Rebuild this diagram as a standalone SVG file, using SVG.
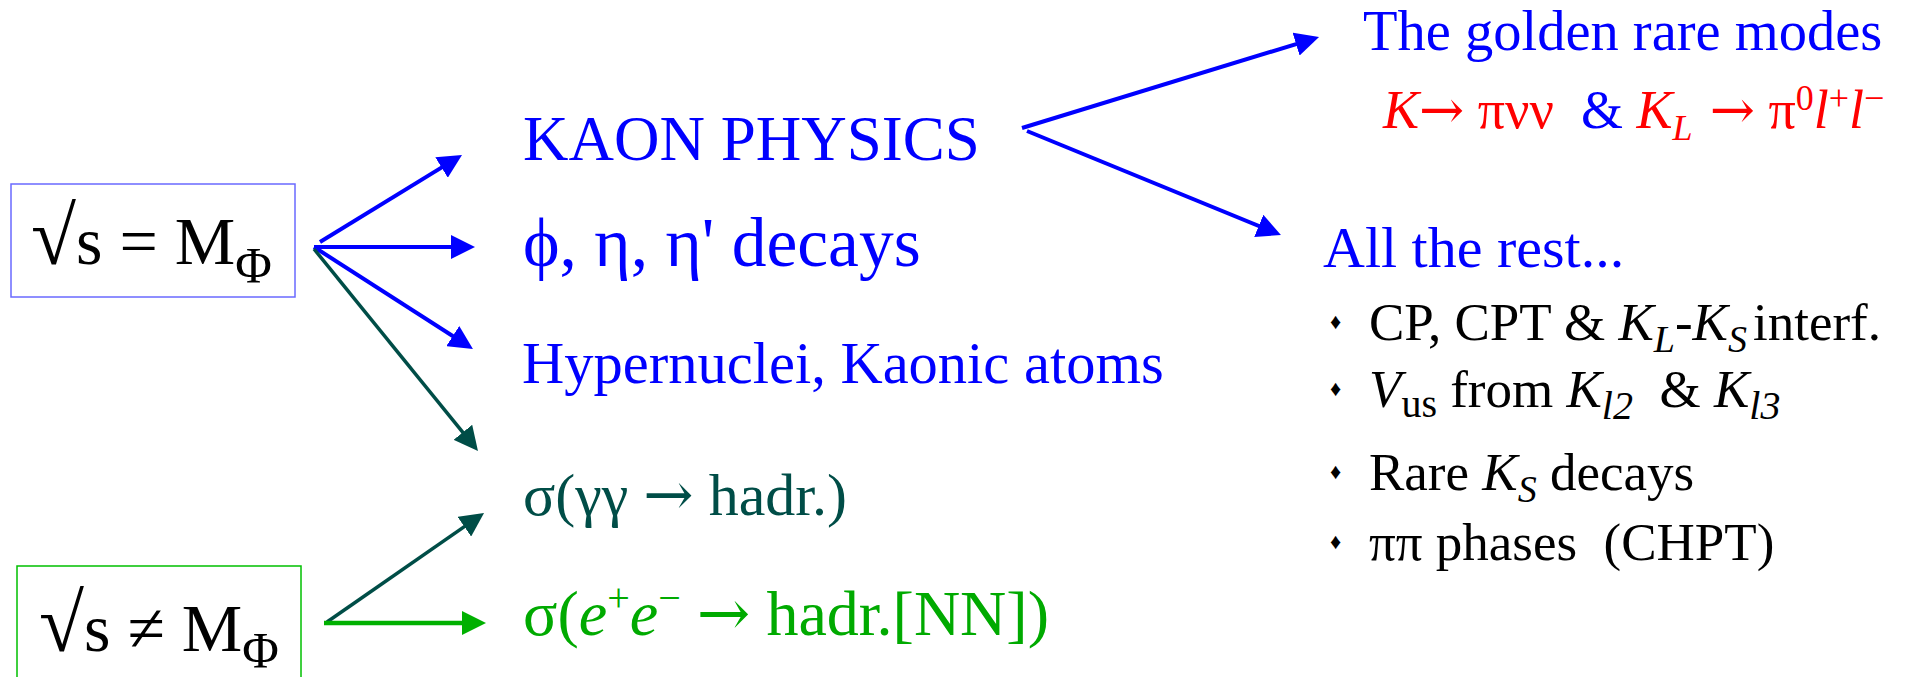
<svg xmlns="http://www.w3.org/2000/svg" width="1916" height="677" viewBox="0 0 1916 677">
<style>
text{font-family:"Liberation Serif","Times New Roman",serif;}
.blk{fill:#000;}
.blue{fill:#0000ff;}
.red{fill:#ff0000;}
.dg{fill:#004d47;}
.gr{fill:#00aa00;}
.it{font-style:italic;}
.arr{font-family:"DejaVu Serif",serif;font-weight:normal;}
.lb{stroke:#0000ff;stroke-width:4;fill:none;}
.ldg{stroke:#004d47;stroke-width:3.5;fill:none;}
.lgr{stroke:#00b000;stroke-width:4.5;fill:none;}
</style>
<defs>
<marker id="ab" markerUnits="userSpaceOnUse" markerWidth="24" markerHeight="24" refX="18" refY="12" orient="auto"><path d="M0,0 L24,12 L0,24 z" fill="#0000ff"/></marker>
<marker id="adg" markerUnits="userSpaceOnUse" markerWidth="24" markerHeight="24" refX="18" refY="12" orient="auto"><path d="M0,0 L24,12 L0,24 z" fill="#004d47"/></marker>
<marker id="agr" markerUnits="userSpaceOnUse" markerWidth="24" markerHeight="24" refX="18" refY="12" orient="auto"><path d="M0,0 L24,12 L0,24 z" fill="#00b000"/></marker>
</defs>

<g id="connectors">
<line class="lb" x1="320" y1="242" x2="456.9" y2="158.1" marker-end="url(#ab)"/>
<line class="lb" x1="314" y1="247" x2="469" y2="247" marker-end="url(#ab)"/>
<line class="lb" x1="314" y1="247" x2="467.9" y2="345.8" marker-end="url(#ab)"/>
<line class="ldg" x1="314" y1="249" x2="474.2" y2="446.3" marker-end="url(#adg)"/>
<line class="ldg" x1="327" y1="622" x2="479.1" y2="516.4" marker-end="url(#adg)"/>
<line class="lgr" x1="324" y1="623" x2="480" y2="623" marker-end="url(#agr)"/>
<line class="lb" x1="1022" y1="128" x2="1313.3" y2="38.8" marker-end="url(#ab)"/>
<line class="lb" x1="1027" y1="131" x2="1275.4" y2="232.7" marker-end="url(#ab)"/>
</g>

<g id="node-at-phi">
<rect x="11" y="184" width="284" height="113" fill="none" stroke="#6a6aff" stroke-width="1.5"/>
<text class="blk" x="31" y="264" font-size="68"><tspan font-size="82">√</tspan>s = M<tspan font-size="50" dy="18">Φ</tspan></text>
</g>

<g id="node-off-phi">
<rect x="17" y="566" width="284" height="120" fill="none" stroke="#00c000" stroke-width="1.5"/>
<text class="blk" x="39" y="651" font-size="68"><tspan font-size="82">√</tspan>s ≠ M<tspan font-size="50" dy="16">Φ</tspan></text>
</g>

<g id="node-kaon">
<text class="blue" x="523" y="160" font-size="63">KAON PHYSICS</text>
</g>

<g id="node-decays">
<text class="blue" x="523" y="266" font-size="69.5">ϕ, η, η' decays</text>
</g>

<g id="node-hyper">
<text class="blue" x="522" y="383" font-size="58.5">Hypernuclei, Kaonic atoms</text>
</g>

<g id="node-gg">
<text class="dg" x="523" y="515" font-size="60">σ(γγ <tspan class="arr">→</tspan> hadr.)</text>
</g>

<g id="node-ee">
<text class="gr" x="523" y="635" font-size="64">σ(<tspan class="it">e</tspan><tspan font-size="40" dy="-24">+</tspan><tspan class="it" dy="24">e</tspan><tspan font-size="40" dy="-24">−</tspan><tspan dy="24"> </tspan><tspan class="arr">→</tspan> hadr.[NN])</text>
</g>

<g id="node-golden">
<text class="blue" x="1363" y="50" font-size="56.5">The golden rare modes</text>
<text x="1383" y="128" font-size="54" xml:space="preserve"><tspan class="red it">K</tspan><tspan class="red arr">→</tspan><tspan class="red"> πνν</tspan><tspan class="blue">  &amp; </tspan><tspan class="red it">K</tspan><tspan class="red it" font-size="36" dy="12">L</tspan><tspan class="red arr" dy="-12"> →</tspan><tspan class="red"> π</tspan><tspan class="red" font-size="36" dy="-18">0</tspan><tspan class="red it" dy="18">l</tspan><tspan class="red" font-size="36" dy="-18">+</tspan><tspan class="red it" dy="18">l</tspan><tspan class="red" font-size="36" dy="-18">−</tspan></text>
</g>

<g id="node-rest">
<text class="blue" x="1323" y="267" font-size="58">All the rest...</text>
<g class="blk" font-size="53">
<text x="1330" y="329" font-size="22">♦</text>
<text x="1369" y="340" xml:space="preserve">CP, CPT &amp; <tspan class="it">K</tspan><tspan class="it" font-size="38" dy="12">L</tspan><tspan dy="-12">-</tspan><tspan class="it">K</tspan><tspan class="it" font-size="38" dy="12">S</tspan><tspan dy="-12" dx="6">interf.</tspan></text>
<text x="1330" y="396" font-size="22">♦</text>
<text x="1369" y="407" xml:space="preserve"><tspan class="it">V</tspan><tspan font-size="40" dy="10">us</tspan><tspan dy="-10"> from </tspan><tspan class="it">K</tspan><tspan class="it" font-size="40" dy="12">l2</tspan><tspan dy="-12">  &amp; </tspan><tspan class="it">K</tspan><tspan class="it" font-size="40" dy="12">l3</tspan></text>
<text x="1330" y="479" font-size="22">♦</text>
<text x="1369" y="490" xml:space="preserve">Rare <tspan class="it">K</tspan><tspan class="it" font-size="38" dy="12">S</tspan><tspan dy="-12"> decays</tspan></text>
<text x="1330" y="549" font-size="22">♦</text>
<text x="1369" y="560" xml:space="preserve">ππ phases  (CHPT)</text>
</g>
</g>
</svg>
